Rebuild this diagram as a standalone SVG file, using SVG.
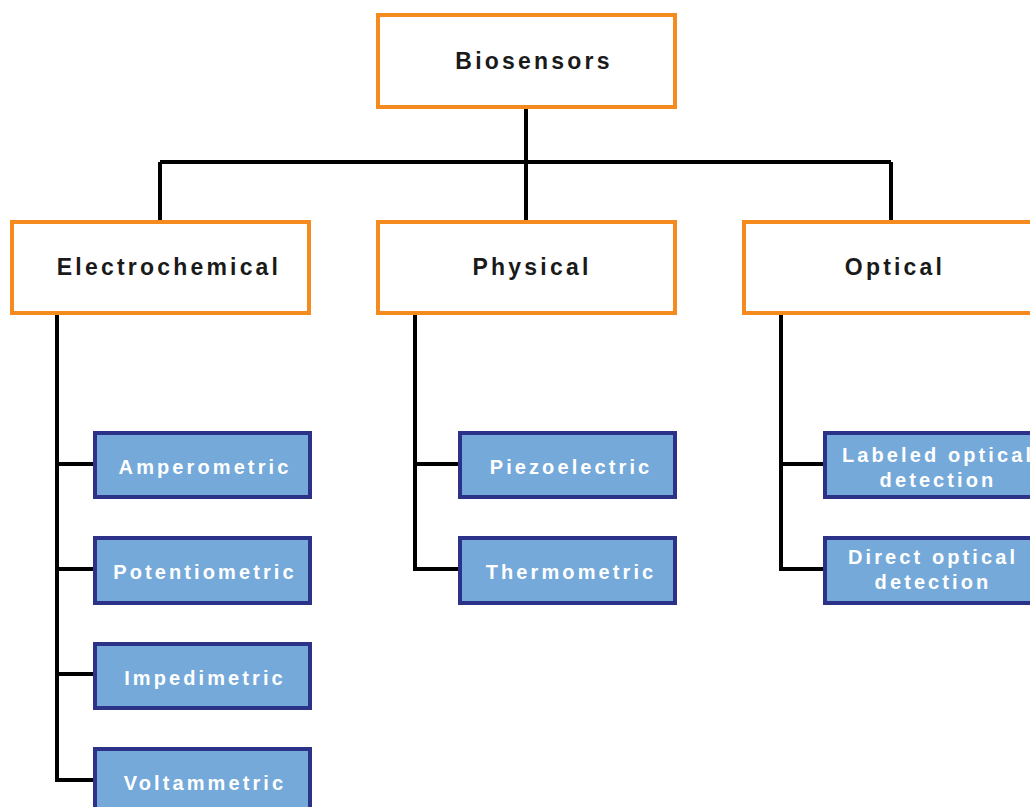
<svg xmlns="http://www.w3.org/2000/svg" width="1030" height="807" viewBox="0 0 1030 807">
  <style>
    .cat rect { fill: #ffffff; stroke: #F58A1F; stroke-width: 4; }
    .cat text { font-family: "Liberation Sans", Arial, sans-serif; font-size: 23px; font-weight: bold; fill: #1a1a1a; letter-spacing: 3.2px; text-anchor: middle; dominant-baseline: central; }
    .leaf rect { fill: #74A9D9; stroke: #2B3287; stroke-width: 4; }
    .leaf text { font-family: "Liberation Sans", Arial, sans-serif; font-size: 20px; font-weight: bold; fill: #ffffff; letter-spacing: 3.1px; text-anchor: middle; dominant-baseline: central; }
    .wire { fill: none; stroke: #000000; stroke-width: 4; }
  </style>

  <g id="connectors">
    <path class="wire" d="M526 107 V162 M160 162 H891 M160 162 V221 M526 162 V221 M891 162 V221"/>
    <path class="wire" d="M57 314 V780 H95 M57 464 H95 M57 569 H95 M57 674 H95"/>
    <path class="wire" d="M415 314 V569 H460 M415 464 H460"/>
    <path class="wire" d="M781 314 V569 H825 M781 464 H825"/>
  </g>

  <g id="biosensors" class="cat">
    <rect x="378" y="15" width="297" height="92"/>
    <text x="534" y="61">Biosensors</text>
  </g>
  <g id="electrochemical" class="cat">
    <rect x="12" y="222" width="297" height="91"/>
    <text x="169" y="267">Electrochemical</text>
  </g>
  <g id="physical" class="cat">
    <rect x="378" y="222" width="297" height="91"/>
    <text x="532" y="267">Physical</text>
  </g>
  <g id="optical" class="cat">
    <rect x="744" y="222" width="300" height="91"/>
    <text x="895" y="267">Optical</text>
  </g>

  <g id="amperometric" class="leaf">
    <rect x="95" y="433" width="215" height="64"/>
    <text x="205" y="467">Amperometric</text>
  </g>
  <g id="potentiometric" class="leaf">
    <rect x="95" y="538" width="215" height="65"/>
    <text x="205" y="572">Potentiometric</text>
  </g>
  <g id="impedimetric" class="leaf">
    <rect x="95" y="644" width="215" height="64"/>
    <text x="205" y="678">Impedimetric</text>
  </g>
  <g id="voltammetric" class="leaf">
    <rect x="95" y="749" width="215" height="70"/>
    <text x="205" y="783">Voltammetric</text>
  </g>

  <g id="piezoelectric" class="leaf">
    <rect x="460" y="433" width="215" height="64"/>
    <text x="571" y="467">Piezoelectric</text>
  </g>
  <g id="thermometric" class="leaf">
    <rect x="460" y="538" width="215" height="65"/>
    <text x="571" y="572">Thermometric</text>
  </g>

  <g id="labeled-optical" class="leaf">
    <rect x="825" y="433" width="215" height="64"/>
    <text x="938" y="455">Labeled optical</text>
    <text x="938" y="480">detection</text>
  </g>
  <g id="direct-optical" class="leaf">
    <rect x="825" y="538" width="215" height="65"/>
    <text x="933" y="557">Direct optical</text>
    <text x="933" y="582">detection</text>
  </g>
</svg>
